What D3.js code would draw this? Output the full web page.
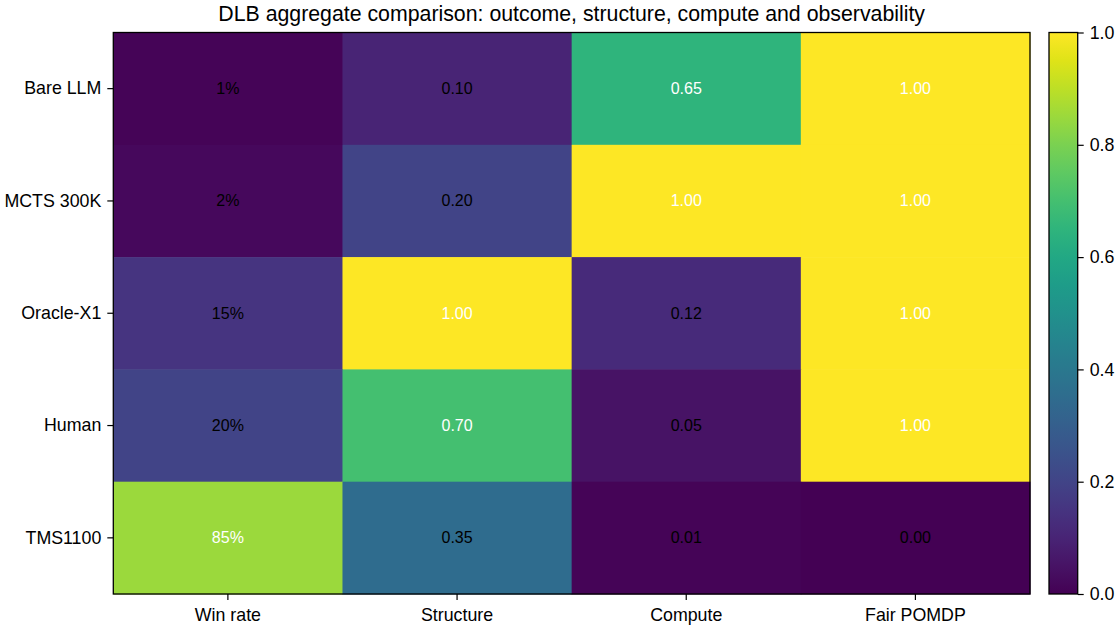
<!DOCTYPE html>
<html>
<head>
<meta charset="utf-8">
<script src="https://cdn.jsdelivr.net/npm/d3@7"></script>
<style>
  html, body { margin: 0; padding: 0; background: #fff; }
  svg { display: block; font-family: "Liberation Sans", Arial, sans-serif; }
</style>
</head>
<body>
<svg id="chart" width="1120" height="626"></svg>
<script>
// Systems compared (rows) and metrics (columns)
const systems = ["Bare LLM", "MCTS 300K", "Oracle-X1", "Human", "TMS1100"];
const metrics = ["Win rate", "Structure", "Compute", "Fair POMDP"];

// Normalised scores per metric, one entry per system
const winRate   = [0.01, 0.02, 0.15, 0.20, 0.85];
const structure = [0.10, 0.20, 1.00, 0.70, 0.35];
const compute   = [0.65, 1.00, 0.12, 0.05, 0.01];
const fairPomdp = [1.00, 1.00, 1.00, 1.00, 0.00];

const colorbarTicks = [0.0, 0.2, 0.4, 0.6, 0.8, 1.0];

const title = "DLB aggregate comparison: outcome, structure, compute and observability";

const columns = [winRate, structure, compute, fairPomdp];
const cells = [];
systems.forEach((s, i) => {
  metrics.forEach((m, j) => {
    const v = columns[j][i];
    cells.push({
      system: s, metric: m, value: v,
      label: j === 0 ? Math.round(v * 100) + "%" : v.toFixed(2)
    });
  });
});

const svg = d3.select("#chart");
const plot = { left: 113.3, top: 32.5, right: 1030, bottom: 594 };
const cbar = { left: 1049, right: 1077.7 };
const tickFont = 17.8;

const x = d3.scaleBand().domain(metrics).range([plot.left, plot.right]);
const y = d3.scaleBand().domain(systems).range([plot.top, plot.bottom]);
const color = d3.scaleSequential(d3.interpolateViridis).domain([0, 1]);

// Heatmap cells
svg.append("g").selectAll("rect")
  .data(cells).join("rect")
  .attr("x", d => x(d.metric))
  .attr("y", d => y(d.system))
  .attr("width", x.bandwidth() + 0.5)
  .attr("height", y.bandwidth() + 0.5)
  .attr("fill", d => color(d.value));

// Value annotations
svg.append("g").selectAll("text")
  .data(cells).join("text")
  .attr("x", d => x(d.metric) + x.bandwidth() / 2)
  .attr("y", d => y(d.system) + y.bandwidth() / 2)
  .attr("text-anchor", "middle")
  .attr("dominant-baseline", "central")
  .attr("font-size", 16)
  .attr("fill", d => d.value > 0.5 ? "#fff" : "#000")
  .text(d => d.label);

// Axes
const xAxis = svg.append("g")
  .attr("transform", `translate(0,${plot.bottom})`)
  .call(d3.axisBottom(x).tickSize(6).tickPadding(8));
const yAxis = svg.append("g")
  .attr("transform", `translate(${plot.left},0)`)
  .call(d3.axisLeft(y).tickSize(6).tickPadding(6));
[xAxis, yAxis].forEach(a => {
  a.select(".domain").remove();
  a.selectAll("line").attr("stroke", "#000").attr("stroke-width", 1.2);
  a.selectAll("text").attr("font-size", tickFont).attr("fill", "#000")
    .attr("font-family", "'Liberation Sans', Arial, sans-serif");
});

// Plot frame
svg.append("rect")
  .attr("x", plot.left).attr("y", plot.top)
  .attr("width", plot.right - plot.left).attr("height", plot.bottom - plot.top)
  .attr("fill", "none").attr("stroke", "#000").attr("stroke-width", 1.3);

// Title
svg.append("text")
  .attr("x", (plot.left + plot.right) / 2)
  .attr("y", 21)
  .attr("text-anchor", "middle")
  .attr("font-size", 21.3)
  .attr("fill", "#000")
  .text(title);

// Colorbar
const defs = svg.append("defs");
const grad = defs.append("linearGradient")
  .attr("id", "viridis-grad")
  .attr("x1", 0).attr("y1", 1).attr("x2", 0).attr("y2", 0);
d3.range(0, 1.0001, 0.05).forEach(t => {
  grad.append("stop").attr("offset", t).attr("stop-color", color(t));
});
const cy = d3.scaleLinear().domain([0, 1]).range([plot.bottom, plot.top]);
svg.append("rect")
  .attr("x", cbar.left).attr("y", plot.top)
  .attr("width", cbar.right - cbar.left).attr("height", plot.bottom - plot.top)
  .attr("fill", "url(#viridis-grad)")
  .attr("stroke", "#000").attr("stroke-width", 1.3);
const cAxis = svg.append("g")
  .attr("transform", `translate(${cbar.right},0)`)
  .call(d3.axisRight(cy).tickValues(colorbarTicks).tickFormat(d3.format(".1f")).tickSize(6).tickPadding(6));
cAxis.select(".domain").remove();
cAxis.selectAll("line").attr("stroke", "#000").attr("stroke-width", 1.2);
cAxis.selectAll("text").attr("font-size", tickFont).attr("fill", "#000")
  .attr("font-family", "'Liberation Sans', Arial, sans-serif");
</script>
</body>
</html>
